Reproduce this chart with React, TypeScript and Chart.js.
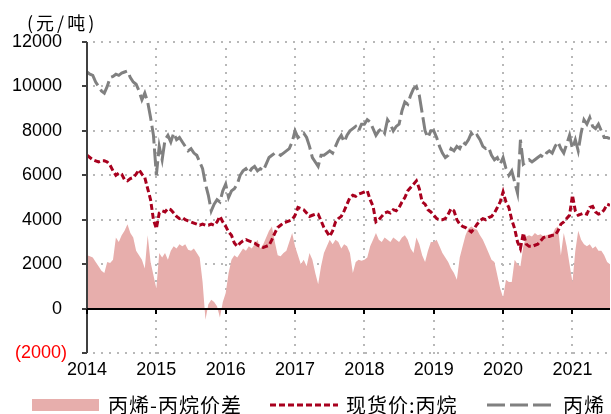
import React, { useEffect, useRef } from "react";
import { Chart, registerables } from "chart.js";
Chart.register(...registerables);

const START_YEAR = 2014;
const PERIODS_PER_YEAR = 24;
const YEAR_TICKS = [2014, 2015, 2016, 2017, 2018, 2019, 2020, 2021];
const Y_TICKS = [-2000, 0, 2000, 4000, 6000, 8000, 10000, 12000];
const UNIT_LABEL = "(元/吨)";
const SERIES_NAMES = ["丙烯-丙烷价差", "现货价:丙烷", "丙烯"];

const PROPYLENE = [
  10650, 10550, 10500, 10200, 10000, 9800, 9700, 10000, 10400, 10450, 10550, 10500, 10600, 10650, 10700, 10400, 10200, 10100, 9800, 9400, 9700, 9300, 8600, 7800,
  6000, 7300, 6700, 7600, 7800, 7500, 7900, 7600, 7700, 7500, 7300, 7100, 7200, 7000, 6900, 6600, 6300, 5600, 5100, 4400, 4700, 4900, 4800, 5300,
  5600, 5000, 5300, 5400, 5600, 6000, 6200, 6300, 6100, 6300, 6400, 6200, 6300, 6200, 6500, 6800, 6900, 7000, 7000, 6900, 7000, 7100, 7200, 7500,
  8000, 7700, 7800, 7900, 7700, 7300, 6800, 6600, 6400, 6900, 6900, 7000, 7100, 7000, 7300, 7600, 7800, 7500, 7800, 8000, 8100, 8200, 8000, 8300,
  8300, 8500, 8400, 8100, 7800, 8000, 8100, 7900, 8500, 8300, 8000, 8200, 8300, 8900, 9300, 9200, 9600, 9900, 10000, 9600, 8800, 8000, 7700, 8000,
  8000, 7700, 7300, 7000, 6800, 6900, 7200, 7100, 7300, 7200, 7500, 7400, 7600, 7900, 7700, 7800, 7600, 7300, 7200, 7250, 6900, 6700, 6800, 6500,
  6800, 6300, 6000, 6200, 5700, 5200, 7600, 6500, 6600, 6700, 6600, 6700, 6800, 6900, 6800, 7000, 7100, 7000, 7300, 7500, 7200, 7000, 7400, 7800,
  7200, 7600, 7100, 7900, 8500, 8300, 8600, 8200, 8100, 8300, 8000, 7700, 7700, 7650,
];

const PROPANE = [
  6900, 6800, 6700, 6650, 6600, 6650, 6650, 6600, 6450, 6200, 6000, 6100, 6050, 5800, 5750, 5850, 5900, 6050, 6250, 6050, 5900, 5400, 4900, 4000,
  3600, 4300, 4400, 4350, 4500, 4450, 4300, 4150, 4050, 4100, 4000, 3950, 3900, 3850, 3800, 3750, 3800, 3750, 3750, 3800, 3750, 3900, 4150, 3900,
  3700, 3450, 3300, 2950, 2800, 2950, 3050, 3100, 3050, 3000, 2950, 2850, 2800, 2750, 2800, 2850, 3100, 3400, 3650, 3750, 3850, 3900, 3950, 4000,
  4200, 4550, 4500, 4450, 4300, 4150, 4200, 4250, 4250, 3950, 3650, 3450, 3250, 3500, 3900, 4050, 4150, 4400, 4700, 5000, 5100, 5050, 5150, 5200,
  5250, 5300, 4900, 4600, 3900, 4000, 4150, 4300, 4350, 4300, 4450, 4400, 4550, 4800, 5000, 5300, 5450, 5600, 5750, 5400, 4800, 4700, 4450, 4350,
  4200, 4050, 4000, 4000, 4050, 4250, 4500, 4400, 4000, 3800, 3700, 3650, 3550, 3450, 3600, 3800, 3950, 4050, 4000, 4100, 4150, 4300, 4550, 4800,
  5250, 4800, 4550, 4000, 3600, 3000, 2700, 3400, 2900, 2800, 2800, 2850, 2900, 3050, 3200, 3250, 3250, 3300, 3300, 3500, 3800, 3900, 4050, 4200,
  5100, 4400, 4200, 4250, 4300, 4250, 4550, 4600, 4350, 4250, 4300, 4450, 4700, 4650,
];

const SPREAD = [
  2400, 2350, 2300, 2100, 1900, 1700, 1600, 2100, 2050, 2200, 3200, 3000, 3300, 3500, 3800, 3400, 3200, 2600, 2400, 2200, 1800, 3300, 2100, 1500,
  900, 2500, 2300, 2500, 2200, 2600, 2800, 2700, 2900, 2800, 2900, 2650, 2600, 2700, 2500, 2300, 1200, -500, 200, 400, 300, 100, -400, 300,
  700, 1600, 2200, 2400, 2300, 2500, 2700, 2600, 2800, 2700, 2900, 3100, 2700, 2900, 3200, 3500, 3700, 3000, 2400, 2350, 2500, 2600, 3000, 3400,
  2800, 2400, 2000, 2200, 1900, 2500, 2200, 1600, 1100, 1900, 2500, 2800, 3100, 2900, 3100, 3000, 2700, 2900, 2800, 2500, 1600, 2100, 2200, 2150,
  2200, 2300, 2800, 3100, 3400, 3100, 3000, 3200, 3100, 3000, 3200, 3100, 3000, 3200, 3300, 3100, 2700, 2500, 3200, 2900, 2400, 2100, 2600, 3000,
  3000, 3100, 2800, 2500, 2300, 2100, 1800, 1600, 1300, 2300, 2800, 3300, 3600, 3700, 3600, 3550, 3300, 3100, 2800, 2500, 2200, 2100, 1500, 900,
  500, 1300, 1200, 1200, 2200, 2000, 1900, 2800, 3250, 3300, 3250, 3400, 3300, 3350, 3250, 3300, 3350, 3300, 3600, 3700, 2400, 3400, 2800, 2000,
  1200, 2600, 3500, 3100, 2900, 2800, 2900, 2700, 2800, 2600, 2600, 2400, 2100, 2000,
];

const COLORS = {
  spread: "rgb(231,174,172)",
  propane: "#A8001E",
  propylene: "#808080",
  grid: "#B8B8B8",
  axis: "#404040",
};
const DASH_PROPANE = [6, 3];
const DASH_PROPYLENE = [18, 5];
const GRID_DOT = 2;
const GRID_GAP = 8;

const NUM_FONT = '"Liberation Sans", Arial, sans-serif';
const CJK_FONT = '"Noto Sans CJK SC", "Noto Sans", sans-serif';

const toPoints = (vals: number[]) =>
  vals.map((v, i) => ({ x: START_YEAR + i / PERIODS_PER_YEAR, y: v }));

const decorPlugin = {
  id: "decor",
  beforeDatasetsDraw(chart: any) {
    const { ctx, chartArea, scales } = chart;
    const { left, right, top, bottom } = chartArea;
    const x = scales.x;
    const y = scales.y;
    ctx.save();
    ctx.fillStyle = COLORS.grid;
    Y_TICKS.forEach((v) => {
      if (v === 0) return;
      const py = Math.round(y.getPixelForValue(v));
      for (let px = left + 6; px < right; px += GRID_GAP) {
        ctx.fillRect(Math.round(px), py - 1, GRID_DOT, GRID_DOT);
      }
    });
    YEAR_TICKS.forEach((yr) => {
      if (yr === START_YEAR) return;
      const px = Math.round(x.getPixelForValue(yr));
      for (let py = top + 6; py < bottom; py += GRID_GAP) {
        ctx.fillRect(px - 1, Math.round(py), GRID_DOT, GRID_DOT);
      }
    });
    ctx.restore();
  },
  afterDatasetsDraw(chart: any) {
    const { ctx, chartArea, scales } = chart;
    const { left, right, top, bottom } = chartArea;
    const x = scales.x;
    const y = scales.y;
    ctx.save();
    ctx.setLineDash([]);
    ctx.strokeStyle = COLORS.axis;
    ctx.lineWidth = 2;
    ctx.beginPath();
    ctx.moveTo(left, top);
    ctx.lineTo(left, bottom);
    ctx.stroke();
    Y_TICKS.forEach((v) => {
      const py = Math.round(y.getPixelForValue(v));
      ctx.beginPath();
      ctx.moveTo(left - 5, py);
      ctx.lineTo(left, py);
      ctx.stroke();
    });
    const zy = Math.round(y.getPixelForValue(0));
    ctx.strokeStyle = "#000";
    ctx.beginPath();
    ctx.moveTo(left, zy);
    ctx.lineTo(right, zy);
    ctx.stroke();
    YEAR_TICKS.forEach((yr) => {
      const px = Math.round(x.getPixelForValue(yr));
      ctx.beginPath();
      ctx.moveTo(px, zy);
      ctx.lineTo(px, zy + 5);
      ctx.stroke();
    });
    ctx.restore();
  },
  afterDraw(chart: any) {
    const { ctx } = chart;
    ctx.save();
    ctx.fillStyle = "#000";
    ctx.font = `18px ${CJK_FONT}`;
    ctx.textBaseline = "middle";
    ctx.textAlign = "left";
    try {
      (ctx as any).letterSpacing = "3px";
    } catch (e) {}
    ctx.fillText(UNIT_LABEL, 27, 23);
    try {
      (ctx as any).letterSpacing = "1px";
    } catch (e) {}

    const ly = 405;
    ctx.font = `20px ${CJK_FONT}`;
    ctx.fillStyle = COLORS.spread;
    ctx.fillRect(32, 399, 67, 12);
    ctx.fillStyle = "#000";
    ctx.fillText(SERIES_NAMES[0], 108, ly);

    ctx.lineWidth = 3;
    ctx.strokeStyle = COLORS.propane;
    ctx.setLineDash(DASH_PROPANE);
    ctx.beginPath();
    ctx.moveTo(270, ly);
    ctx.lineTo(338, ly);
    ctx.stroke();
    ctx.fillText(SERIES_NAMES[1], 346, ly);

    ctx.strokeStyle = COLORS.propylene;
    ctx.setLineDash(DASH_PROPYLENE);
    ctx.beginPath();
    ctx.moveTo(487, ly);
    ctx.lineTo(555, ly);
    ctx.stroke();
    ctx.fillText(SERIES_NAMES[2], 563, ly);
    ctx.restore();
  },
};

export default function App() {
  const canvasRef = useRef<HTMLCanvasElement | null>(null);

  useEffect(() => {
    if (!canvasRef.current) return;
    const chart = new Chart(canvasRef.current, {
      type: "line",
      data: {
        datasets: [
          {
            label: SERIES_NAMES[2],
            data: toPoints(PROPYLENE),
            borderColor: COLORS.propylene,
            borderWidth: 3,
            borderDash: DASH_PROPYLENE,
            pointRadius: 0,
            fill: false,
            tension: 0,
            order: 0,
          },
          {
            label: SERIES_NAMES[1],
            data: toPoints(PROPANE),
            borderColor: COLORS.propane,
            borderWidth: 3,
            borderDash: DASH_PROPANE,
            pointRadius: 0,
            fill: false,
            tension: 0,
            order: 1,
          },
          {
            label: SERIES_NAMES[0],
            data: toPoints(SPREAD),
            borderColor: COLORS.spread,
            backgroundColor: COLORS.spread,
            borderWidth: 0,
            pointRadius: 0,
            fill: "origin",
            tension: 0,
            order: 2,
          },
        ],
      },
      options: {
        animation: false,
        responsive: true,
        maintainAspectRatio: false,
        layout: { padding: { left: 0, right: 1, top: 42, bottom: 0 } },
        plugins: { legend: { display: false }, tooltip: { enabled: false } },
        scales: {
          x: {
            type: "linear",
            min: START_YEAR,
            max: START_YEAR + (PROPYLENE.length - 1) / PERIODS_PER_YEAR,
            afterBuildTicks: (s: any) => {
              s.ticks = YEAR_TICKS.map((v) => ({ value: v }));
            },
            afterFit: (s: any) => {
              s.height = 61;
            },
            grid: { display: false, drawTicks: false },
            border: { display: false },
            ticks: {
              autoSkip: false,
              maxRotation: 0,
              padding: 6,
              color: "#000",
              font: { family: NUM_FONT, size: 18 },
              callback: (v: any) => String(v),
            },
          },
          y: {
            type: "linear",
            min: -2000,
            max: 12000,
            afterBuildTicks: (s: any) => {
              s.ticks = Y_TICKS.map((v) => ({ value: v }));
            },
            afterFit: (s: any) => {
              s.width = 87;
            },
            grid: { display: false, drawTicks: false },
            border: { display: false },
            ticks: {
              padding: 20,
              color: (c: any) => (c.tick && c.tick.value < 0 ? "#FF0000" : "#000"),
              font: { family: NUM_FONT, size: 18 },
              callback: (v: any) => (v < 0 ? `(${Math.abs(v)})` : `${v} `),
            },
          },
        },
      },
      plugins: [decorPlugin],
    });
    return () => chart.destroy();
  }, []);

  return (
    <div style={{ position: "fixed", left: 0, top: 0, width: 611, height: 414 }}>
      <canvas ref={canvasRef} />
    </div>
  );
}
